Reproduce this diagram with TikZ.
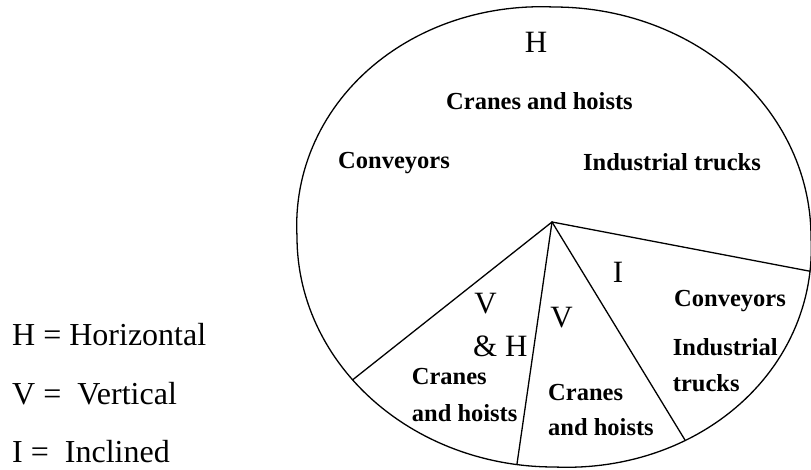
\documentclass[tikz,border=0pt]{standalone}
\usepackage{fontspec}
\setmainfont{Liberation Serif}
\begin{document}
\begin{tikzpicture}[x=1pt,y=-1pt,
  declare function={
    bulge(\t)=1+0.025*max(0,-sin(2*\t));
    rimx(\t)=554+257*cos(\t)*bulge(\t);
    rimy(\t)=237-230*sin(\t)*bulge(\t);
  },
  outline/.style={line width=1.3pt, line cap=round, line join=round},
  tag/.style={inner sep=0pt, anchor=base, font=\fontsize{31}{36}\selectfont},
  item/.style={inner sep=0pt, anchor=base west, font=\fontsize{24.5}{29}\selectfont\bfseries},
  legend/.style={inner sep=0pt, anchor=base west, font=\fontsize{32}{38}\selectfont}]
\useasboundingbox (0,0) rectangle (811,470);

% outer boundary of the chart: a slightly uneven oval
\draw[outline] plot[domain=0:360, samples=241] ({rimx(\x)},{rimy(\x)}) -- cycle;

% hub and the points where the sector borders meet the rim
\coordinate (hub)  at (552,222);
\coordinate (rimA) at ({rimx(218.4)},{rimy(218.4)});
\coordinate (rimB) at ({rimx(261.7)},{rimy(261.7)});
\coordinate (rimC) at ({rimx(300)},{rimy(300)});
\coordinate (rimD) at ({rimx(351.5)},{rimy(351.5)});
\foreach \r in {rimA,rimB,rimC,rimD}
  \draw[outline] (hub) -- (\r);

% horizontal sector
\node[tag] (tH) at (536,52.7) {H};
\node[item, anchor=base] (hCranes) at (539.5,110) {Cranes and hoists};
\node[item] (hConv) at (338,169) {Conveyors};
\node[item] (hTrucks) at (583,171) {Industrial trucks};

% vertical and horizontal sector
\node[tag] (tV1) at (485.5,313) {V};
\node[tag, anchor=base west] (tVH) at (473,356.7) {\& H};
\node[item] (vhCranes) at (411.7,384) {Cranes};
\node[item] (vhHoists) at (411.7,421.7) {and hoists};

% vertical sector
\node[tag] (tV2) at (561.5,327.7) {V};
\node[item] (vCranes) at (548,400) {Cranes};
\node[item] (vHoists) at (548,435) {and hoists};

% inclined sector
\node[tag] (tI) at (618,282.3) {I};
\node[item] (iConv) at (674,307) {Conveyors};
\node[item] (iInd) at (672.7,355) {Industrial};
\node[item] (iTrucks) at (672.7,391.7) {trucks};

% key
\node[legend] (kH) at (12,345) {H = Horizontal};
\node[legend] (kV) at (12,404) {V = \ Vertical};
\node[legend] (kI) at (12,462.5) {I = \ Inclined};
\end{tikzpicture}
\end{document}
